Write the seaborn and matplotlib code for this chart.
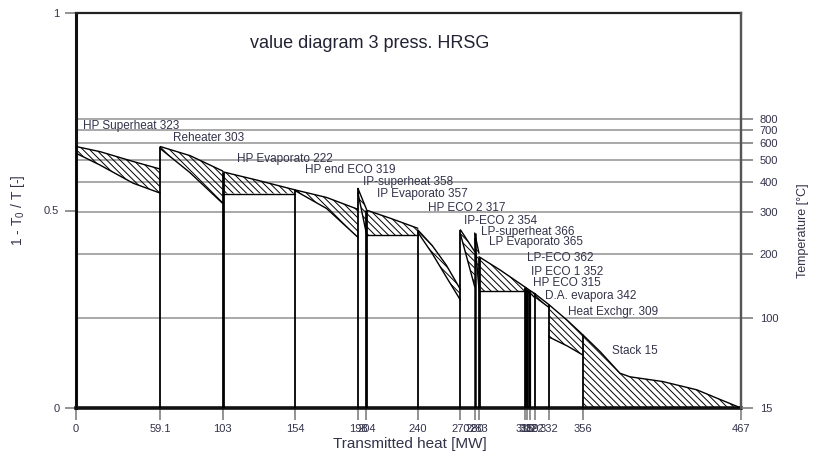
import numpy as np
import pandas as pd
import matplotlib
matplotlib.use("Agg")
import matplotlib.pyplot as plt
import seaborn as sns

# ---------------- data ----------------
title = "value diagram 3 press. HRSG"
x_ticks = [0, 59.1, 103, 154, 198, 204, 240, 270, 280, 283, 315, 317, 319, 322, 332, 356, 467]
x_tick_labels = ["0", "59.1", "103", "154", "198", "204", "240", "270", "280", "283",
                 "315", "317", "319", "322", "332", "356", "467"]
y_ticks = [0, 0.5, 1]
y_tick_labels = ["0", "0.5", "1"]
temp_ticks = [15, 100, 200, 300, 400, 500, 600, 700, 800]
grid_temps = [100, 200, 300, 400, 500, 600, 700, 800]
T0_K = 288.15

# heat-exchanger sections: transmitted heat q, hot (gas) and cold (water/steam) Carnot factor
hp_sh_q = [0, 16.9, 40.2, 59.1]
hp_sh_hot = [0.662, 0.649, 0.624, 0.605]
hp_sh_cold = [0.645, 0.615, 0.569, 0.544]

rh_q = [59.1, 80, 103]
rh_hot = [0.662, 0.639, 0.600]
rh_cold = [0.657, 0.596, 0.518]

hp_ev_q = [103, 127, 154]
hp_ev_hot = [0.598, 0.577, 0.552]
hp_ev_cold = [0.543, 0.543, 0.543]

hp_eco_end_q = [154, 176, 198]
hp_eco_end_hot = [0.552, 0.533, 0.503]
hp_eco_end_cold = [0.550, 0.505, 0.432]

ip_sh_q = [198, 204]
ip_sh_hot = [0.556, 0.503]
ip_sh_cold = [0.545, 0.440]

ip_ev_q = [204, 221, 240]
ip_ev_hot = [0.501, 0.480, 0.455]
ip_ev_cold = [0.437, 0.437, 0.437]

hp_eco2_q = [240, 250, 260, 270]
hp_eco2_hot = [0.451, 0.412, 0.362, 0.300]
hp_eco2_cold = [0.445, 0.392, 0.332, 0.273]

ip_eco2_q = [270, 280]
ip_eco2_hot = [0.451, 0.396]
ip_eco2_cold = [0.440, 0.307]

lp_sh_q = [280, 283]
lp_sh_hot = [0.443, 0.392]
lp_sh_cold = [0.430, 0.300]

lp_ev_q = [283, 298, 315]
lp_ev_hot = [0.383, 0.349, 0.307]
lp_ev_cold = [0.295, 0.295, 0.295]

lp_eco_q = [315, 317]
lp_eco_hot = [0.307, 0.302]
lp_eco_cold = [0.300, 0.290]

ip_eco1_q = [317, 319]
ip_eco1_hot = [0.302, 0.297]
ip_eco1_cold = [0.296, 0.287]

hp_eco1_q = [319, 322]
hp_eco1_hot = [0.297, 0.290]
hp_eco1_cold = [0.291, 0.280]

da_ev_q = [322, 332]
da_ev_hot = [0.290, 0.262]
da_ev_cold = [0.282, 0.255]

hx_q = [332, 345, 356]
hx_hot = [0.262, 0.222, 0.185]
hx_cold = [0.180, 0.157, 0.134]

stack_q = [356, 368, 382, 389, 412, 436, 450, 467]
stack_hot = [0.185, 0.143, 0.088, 0.079, 0.067, 0.046, 0.025, 0.0]
stack_cold = [0, 0, 0, 0, 0, 0, 0, 0]

section_labels = ["HP Superheat 323", "Reheater 303", "HP Evaporato 222", "HP end ECO 319",
                  "IP-superheat 358", "IP Evaporato 357", "HP ECO 2 317", "IP-ECO 2 354",
                  "LP-superheat 366", "LP Evaporato 365", "LP-ECO 362", "IP ECO 1 352",
                  "HP ECO 315", "D.A. evapora 342", "Heat Exchgr. 309", "Stack 15"]

sections = [
    (hp_sh_q, hp_sh_hot, hp_sh_cold),
    (rh_q, rh_hot, rh_cold),
    (hp_ev_q, hp_ev_hot, hp_ev_cold),
    (hp_eco_end_q, hp_eco_end_hot, hp_eco_end_cold),
    (ip_sh_q, ip_sh_hot, ip_sh_cold),
    (ip_ev_q, ip_ev_hot, ip_ev_cold),
    (hp_eco2_q, hp_eco2_hot, hp_eco2_cold),
    (ip_eco2_q, ip_eco2_hot, ip_eco2_cold),
    (lp_sh_q, lp_sh_hot, lp_sh_cold),
    (lp_ev_q, lp_ev_hot, lp_ev_cold),
    (lp_eco_q, lp_eco_hot, lp_eco_cold),
    (ip_eco1_q, ip_eco1_hot, ip_eco1_cold),
    (hp_eco1_q, hp_eco1_hot, hp_eco1_cold),
    (da_ev_q, da_ev_hot, da_ev_cold),
    (hx_q, hx_hot, hx_cold),
    (stack_q, stack_hot, stack_cold),
]

# layout only: label left x (MW), centre y (Carnot factor); boundary line widths
label_pos = [(4.9, 0.714), (67.9, 0.683), (113.3, 0.630), (160.8, 0.603),
             (201.3, 0.571), (211.6, 0.541), (247.4, 0.506), (272.5, 0.474),
             (284.4, 0.446), (290.0, 0.419), (316.9, 0.379), (319.3, 0.345),
             (321.1, 0.316), (329.4, 0.284), (345.7, 0.242), (376.2, 0.145)]
boundary_lw = [1.3, 1.3, 2.0, 1.3, 1.3, 2.0, 1.3, 1.3, 1.8, 2.0, 2.0, 2.0, 1.6, 1.3, 1.3, 1.3]


def carnot(t_c):
    return 1.0 - T0_K / (np.asarray(t_c, dtype=float) + 273.15)


# ---------------- style ----------------
sns.set_theme(style="white")
plt.rcParams["font.family"] = ["Liberation Sans", "DejaVu Sans"]
plt.rcParams["mathtext.default"] = "regular"
plt.rcParams["hatch.linewidth"] = 0.7
text_col = "#33334a"
tick_col = "#8a8a8a"
hatch_pattern = chr(92) * 5

fig = plt.figure(figsize=(8.14, 4.62), dpi=100)
ax = fig.add_axes([76 / 814, 54 / 462, 665 / 814, 395 / 462])
ax.set_xlim(0, 467)
ax.set_ylim(0, 1)

# temperature grid lines
ax.hlines(carnot(grid_temps), 0, 467, color="#a8a8a8", lw=1.4, zorder=1)

# long-form table of the section curves
rows = []
for i, (q, hot, cold) in enumerate(sections):
    for qq, h in zip(q, hot):
        rows.append({"q": qq, "phi": h, "curve": f"{i}-hot"})
    for qq, c in zip(q, cold):
        rows.append({"q": qq, "phi": c, "curve": f"{i}-cold"})
df = pd.DataFrame(rows)

for i, (q, hot, cold) in enumerate(sections):
    ax.fill_between(q, cold, hot, facecolor="none", edgecolor="black",
                    linewidth=0, hatch=hatch_pattern, zorder=2)
    ax.vlines(q[0], 0, hot[0], color="black", lw=boundary_lw[i], zorder=3)

sns.lineplot(data=df, x="q", y="phi", units="curve", estimator=None, sort=False,
             color="black", lw=1.0, legend=False, ax=ax, zorder=3)

for txt, (lx, ly) in zip(section_labels, label_pos):
    ax.text(lx, ly, txt, ha="left", va="center", fontsize=8.5, color=text_col, zorder=4)

ax.text(122.2, 0.924, title, ha="left", va="center", fontsize=13, color="#222233")

# axes, ticks
ax.set_xticks(x_ticks)
ax.set_xticklabels(x_tick_labels)
ax.set_yticks(y_ticks)
ax.set_yticklabels(y_tick_labels)
ax.tick_params(axis="x", length=8.5, width=1.3, color=tick_col, labelsize=8,
               labelcolor=text_col, pad=3, bottom=True)
ax.tick_params(axis="y", length=8, width=1.3, color=tick_col, labelsize=8,
               labelcolor=text_col, pad=4, left=True)
ax.set_xlabel("Transmitted heat [MW]", fontsize=11, color=text_col)
ax.set_ylabel("1 - T$_0$ / T [-]", fontsize=10, color=text_col)
ax.xaxis.set_label_coords(0.502, -0.091)
ax.xaxis.label.set_va("center")
ax.yaxis.set_label_coords(-0.087, 0.5)
ax.yaxis.label.set_va("center")

for side, lw, col in [("left", 2.2, "#111111"), ("bottom", 2.6, "#111111"),
                      ("top", 1.6, "#222222"), ("right", 1.6, "#555555")]:
    ax.spines[side].set_linewidth(lw)
    ax.spines[side].set_color(col)
    ax.spines[side].set_visible(True)

ax2 = ax.twinx()
ax2.set_ylim(0, 1)
ax2.set_yticks(carnot(temp_ticks))
ax2.set_yticklabels([str(t) for t in temp_ticks])
ax2.tick_params(axis="y", length=8.5, width=1.3, color=tick_col, labelsize=8,
                labelcolor=text_col, pad=5, right=True)
for side in ["left", "bottom", "top"]:
    ax2.spines[side].set_visible(False)
ax2.spines["right"].set_linewidth(1.6)
ax2.spines["right"].set_color("#555555")
ax2.set_ylabel("Temperature [°C]", fontsize=9, color=text_col, rotation=90)
ax2.yaxis.set_label_coords(1.093, 0.448)
ax2.yaxis.label.set_va("center")
ax2.grid(False)
ax.grid(False)

fig.savefig("out.png", dpi=100)
